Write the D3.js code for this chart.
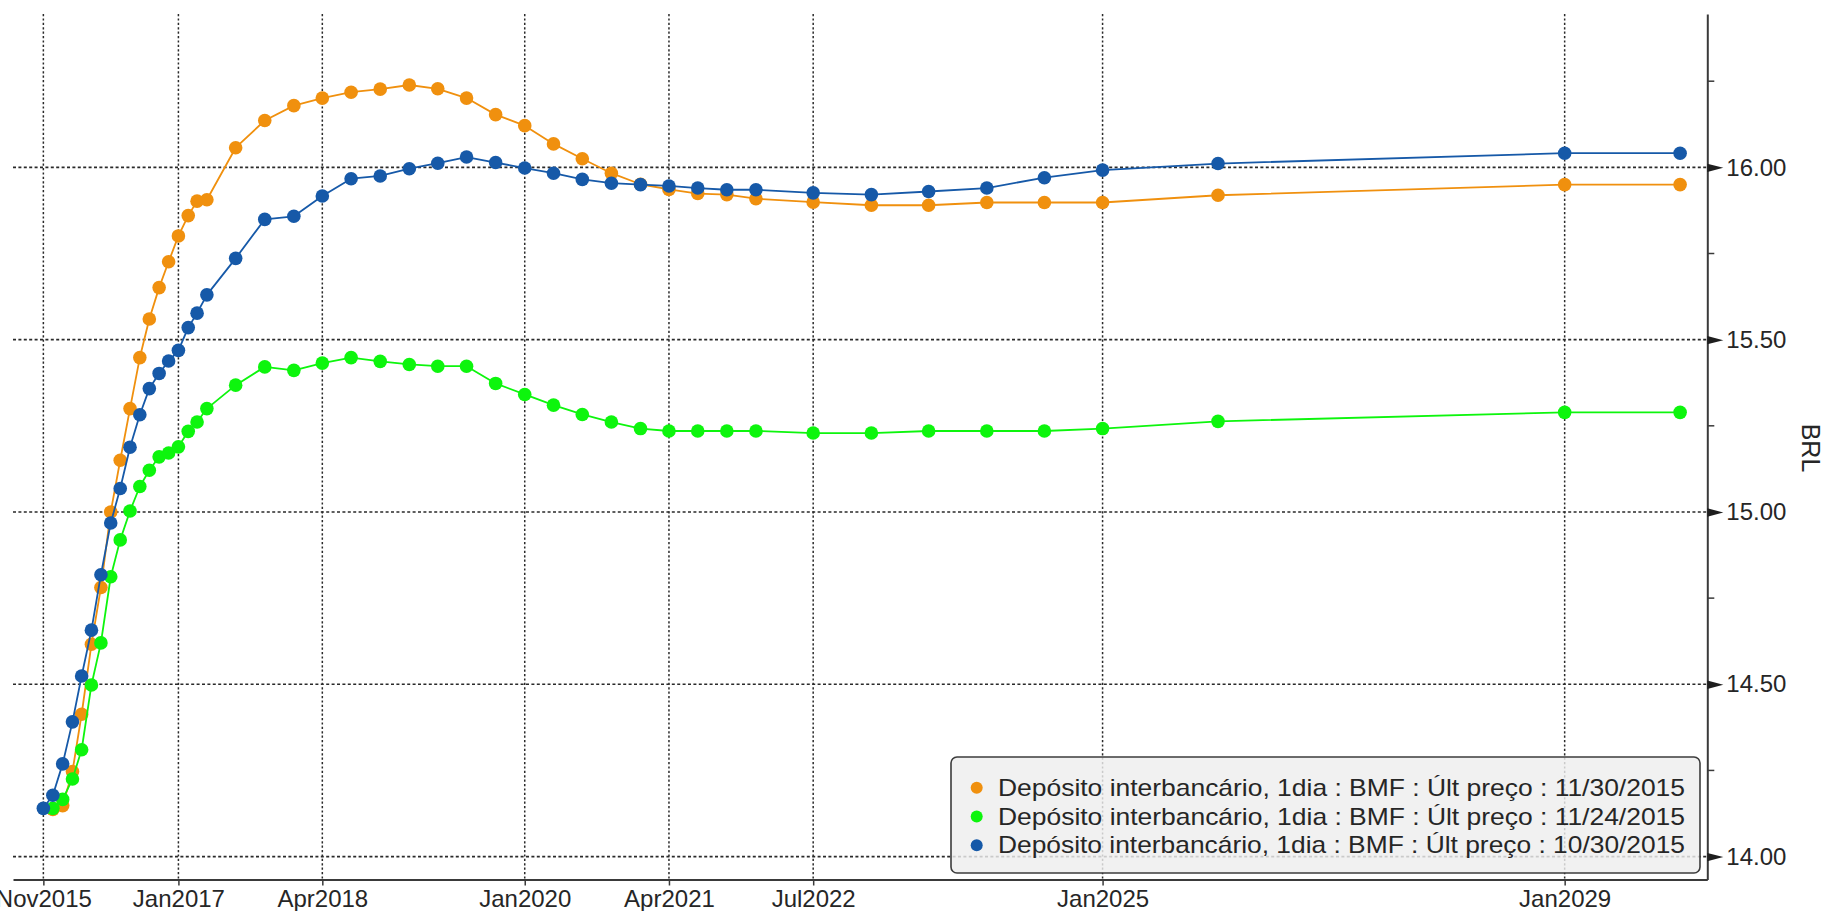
<!DOCTYPE html>
<html>
<head>
<meta charset="utf-8">
<script src="https://cdn.jsdelivr.net/npm/d3@7"></script>
<style>
  html, body { margin: 0; padding: 0; background: #ffffff; }
  svg { display: block; }
  text { font-family: "Liberation Sans", Arial, sans-serif; fill: #262626; }
</style>
</head>
<body>
<svg id="chart" width="1829" height="911"></svg>
<script>
// Contract maturities (first business month of each DI1 future)
const maturities = [
  "2015-11", "2015-12", "2016-01", "2016-02", "2016-03", "2016-04", "2016-05", "2016-06",
  "2016-07", "2016-08", "2016-09", "2016-10", "2016-11", "2016-12", "2017-01", "2017-02",
  "2017-03", "2017-04", "2017-07", "2017-10", "2018-01", "2018-04", "2018-07", "2018-10",
  "2019-01", "2019-04", "2019-07", "2019-10", "2020-01", "2020-04", "2020-07", "2020-10",
  "2021-01", "2021-04", "2021-07", "2021-10", "2022-01", "2022-07", "2023-01", "2023-07",
  "2024-01", "2024-07", "2025-01", "2026-01", "2029-01", "2030-01"
];

// Last price curve on 11/30/2015
const rates_20151130 = [
  null, 14.137, 14.148, 14.247, 14.413, 14.616, 14.781, 15.000,
  15.150, 15.300, 15.448, 15.560, 15.651, 15.726, 15.801, 15.860,
  15.902, 15.906, 16.057, 16.136, 16.179, 16.201, 16.218, 16.227,
  16.239, 16.228, 16.201, 16.153, 16.121, 16.068, 16.025, 15.983,
  15.951, 15.936, 15.924, 15.921, 15.909, 15.899, 15.890, 15.890,
  15.898, 15.898, 15.898, 15.919, 15.950, 15.950
];

// Last price curve on 11/24/2015
const rates_20151124 = [
  null, 14.140, 14.166, 14.225, 14.310, 14.498, 14.620, 14.812,
  14.919, 15.003, 15.074, 15.121, 15.160, 15.171, 15.189, 15.234,
  15.261, 15.300, 15.368, 15.421, 15.411, 15.432, 15.448, 15.437,
  15.428, 15.423, 15.423, 15.373, 15.341, 15.310, 15.283, 15.261,
  15.242, 15.235, 15.235, 15.235, 15.235, 15.229, 15.229, 15.235,
  15.235, 15.235, 15.242, 15.263, 15.289, 15.289
];

// Last price curve on 10/30/2015
const rates_20151030 = [
  14.140, 14.178, 14.269, 14.391, 14.524, 14.657, 14.818, 14.968,
  15.068, 15.188, 15.282, 15.358, 15.402, 15.438, 15.469, 15.535,
  15.577, 15.630, 15.736, 15.849, 15.858, 15.917, 15.967, 15.975,
  15.996, 16.012, 16.030, 16.014, 15.998, 15.983, 15.965, 15.954,
  15.950, 15.946, 15.940, 15.935, 15.935, 15.926, 15.921, 15.930,
  15.940, 15.970, 15.992, 16.011, 16.041, 16.041
];

const seriesNames = [
  "Depósito interbancário, 1dia : BMF : Últ preço : 11/30/2015",
  "Depósito interbancário, 1dia : BMF : Últ preço : 11/24/2015",
  "Depósito interbancário, 1dia : BMF : Últ preço : 10/30/2015"
];
const seriesColors = ["#f0900e", "#0df50d", "#1659a8"];

const xTickLabels = ["2015-11", "2017-01", "2018-04", "2020-01", "2021-04", "2022-07", "2025-01", "2029-01"];
const yTickValues = [14.00, 14.50, 15.00, 15.50, 16.00];
const yMinorTicks = [14.25, 14.75, 15.25, 15.75, 16.25];
const axisTitle = "BRL";

// ---- layout ----
const W = 1829, H = 911;
const plot = { left: 13, right: 1707.3, top: 14, bottom: 879.5 };

const parseMonth = d3.utcParse("%Y-%m");
const x = d3.scaleUtc()
  .domain([new Date(Date.UTC(2015, 6, 28)), new Date(Date.UTC(2030, 2, 28))])
  .range([plot.left, plot.right]);
const y = d3.scaleLinear()
  .domain([13.9335, 16.445])
  .range([plot.bottom, plot.top]);

const svg = d3.select("#chart");

// ---- grid ----
const grid = svg.append("g").attr("class", "grid");
grid.selectAll("line.h").data(yTickValues).join("line")
  .attr("class", "h")
  .attr("x1", plot.left).attr("x2", plot.right)
  .attr("y1", d => y(d)).attr("y2", d => y(d))
  .attr("stroke", "#2a2a2a").attr("stroke-width", 1.6)
  .attr("stroke-dasharray", "3,2.4");
grid.selectAll("line.v").data(xTickLabels.map(parseMonth)).join("line")
  .attr("class", "v")
  .attr("x1", d => x(d)).attr("x2", d => x(d))
  .attr("y1", plot.top).attr("y2", plot.bottom)
  .attr("stroke", "#2a2a2a").attr("stroke-width", 1.5)
  .attr("stroke-dasharray", "2.2,2.2");

// ---- series ----
const allSeries = [rates_20151130, rates_20151124, rates_20151030].map((vals, i) => ({
  name: seriesNames[i],
  color: seriesColors[i],
  points: maturities.map((m, j) => ({ date: parseMonth(m), value: vals[j] }))
                    .filter(p => p.value !== null)
}));

const line = d3.line().x(d => x(d.date)).y(d => y(d.value));

const seriesG = svg.append("g").attr("class", "series");
allSeries.forEach(s => {
  const g = seriesG.append("g");
  g.append("path")
    .datum(s.points)
    .attr("d", line)
    .attr("fill", "none")
    .attr("stroke", s.color)
    .attr("stroke-width", 1.8)
    .attr("stroke-linejoin", "round");
  g.selectAll("circle").data(s.points).join("circle")
    .attr("cx", d => x(d.date))
    .attr("cy", d => y(d.value))
    .attr("r", 6.8)
    .attr("fill", s.color);
});

// ---- axes ----
const xAxis = d3.axisBottom(x)
  .tickValues(xTickLabels.map(parseMonth))
  .tickFormat(d3.utcFormat("%b%Y"))
  .tickSizeInner(6).tickSizeOuter(0).tickPadding(4);
const xg = svg.append("g").attr("transform", `translate(0,${plot.bottom})`).call(xAxis);
xg.select(".domain").attr("stroke", "#3a3a3a").attr("stroke-width", 2);
xg.selectAll(".tick line").attr("stroke", "#3a3a3a").attr("stroke-width", 1.5);
xg.selectAll(".tick text")
  .attr("font-size", 24)
  .attr("font-family", "'Liberation Sans', Arial, sans-serif")
  .attr("fill", "#262626");

const yAxis = d3.axisRight(y)
  .tickValues(yTickValues)
  .tickFormat(d3.format(".2f"))
  .tickSizeInner(0).tickSizeOuter(0).tickPadding(19);
const yg = svg.append("g").attr("transform", `translate(${plot.right},0)`).call(yAxis);
yg.select(".domain").attr("stroke", "#3a3a3a").attr("stroke-width", 2);
yg.selectAll(".tick text")
  .attr("font-size", 24)
  .attr("font-family", "'Liberation Sans', Arial, sans-serif")
  .attr("fill", "#262626");
// arrow-head major tick markers
yg.selectAll(".tick").append("path")
  .attr("d", "M0,-4.2L16,0L0,4.2Z")
  .attr("fill", "#1e1e1e");
// minor ticks
yg.selectAll("line.minor").data(yMinorTicks).join("line")
  .attr("class", "minor")
  .attr("x1", 0).attr("x2", 7)
  .attr("y1", d => y(d)).attr("y2", d => y(d))
  .attr("stroke", "#3a3a3a").attr("stroke-width", 1.5);

svg.append("text")
  .attr("transform", `translate(1811,448) rotate(90)`)
  .attr("text-anchor", "middle")
  .attr("dominant-baseline", "central")
  .attr("font-size", 25)
  .text(axisTitle);

// ---- legend ----
const legend = svg.append("g").attr("transform", "translate(951,757)");
legend.append("rect")
  .attr("width", 749).attr("height", 116)
  .attr("rx", 6).attr("ry", 6)
  .attr("fill", "#eeeeee").attr("fill-opacity", 0.82)
  .attr("stroke", "#3c3c3c").attr("stroke-width", 1.6);
const items = legend.selectAll("g.item").data(allSeries).join("g")
  .attr("class", "item")
  .attr("transform", (d, i) => `translate(0,${38.7 + i * 28.8})`);
items.append("circle")
  .attr("cx", 25.7).attr("cy", -8)
  .attr("r", 6)
  .attr("fill", d => d.color);
items.append("text")
  .attr("x", 47)
  .attr("y", 0)
  .attr("font-size", 24)
  .attr("textLength", 687)
  .attr("lengthAdjust", "spacingAndGlyphs")
  .attr("fill", "#1c1c1c")
  .text(d => d.name);
</script>
</body>
</html>
